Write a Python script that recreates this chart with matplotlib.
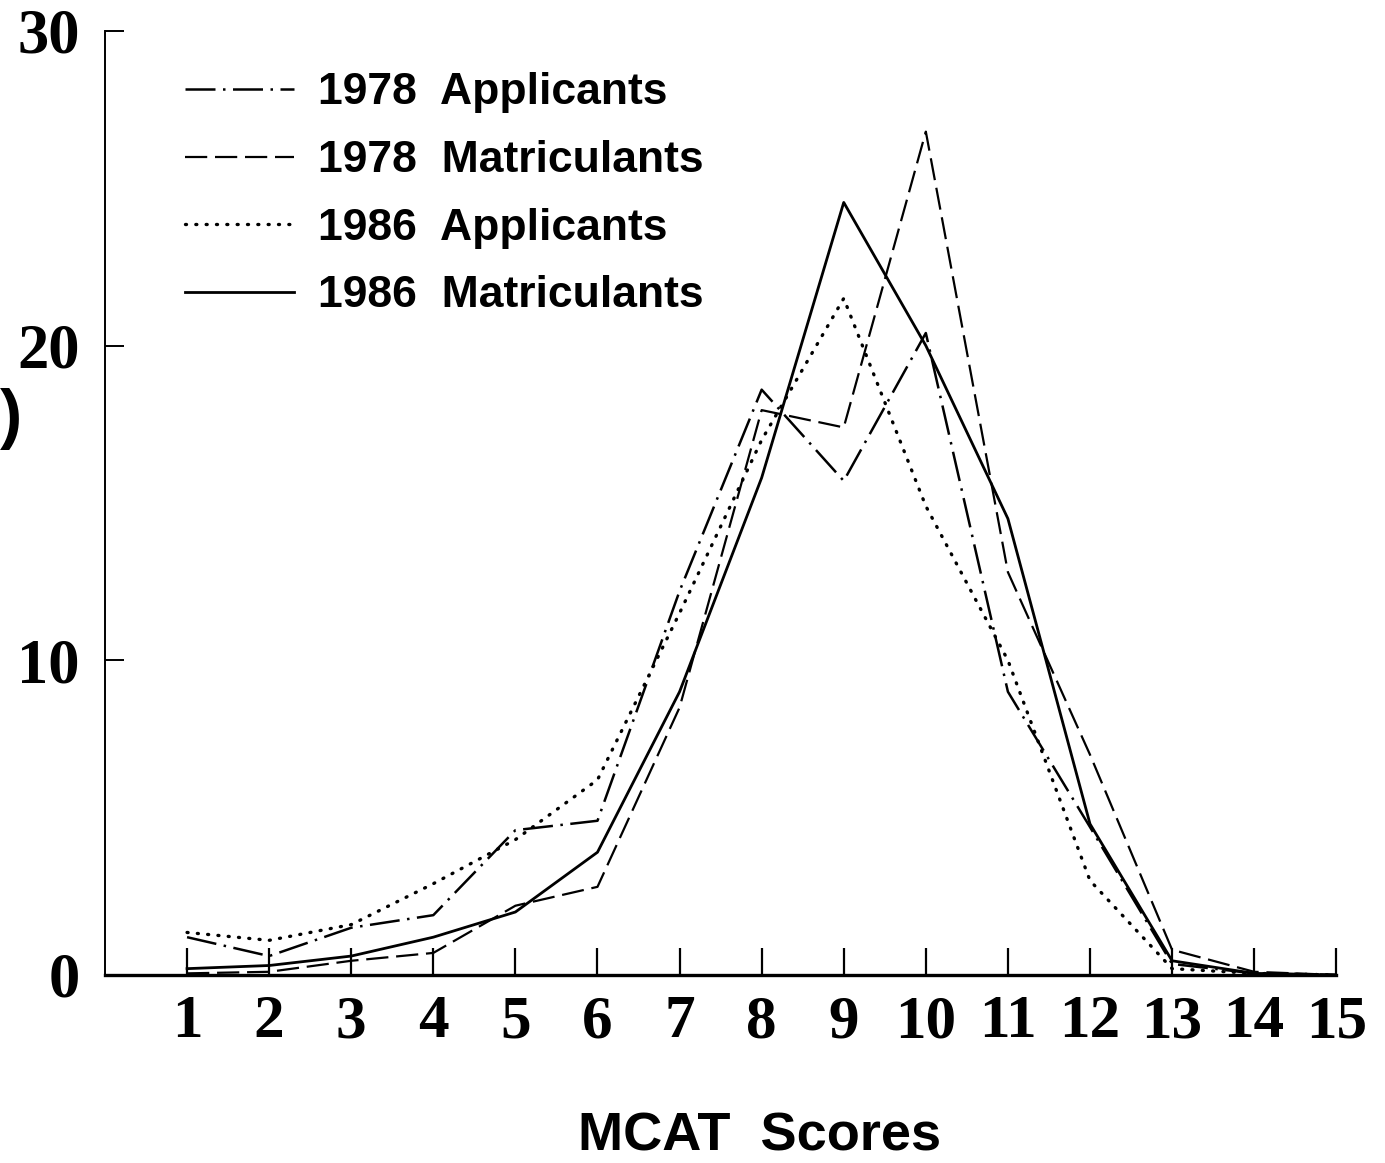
import matplotlib.pyplot as plt
import numpy as np

# MCAT score distribution (percent)
scores = list(range(1, 16))
apps_1978 = [1.2, 0.6, 1.5, 1.9, 4.6, 4.9, 12.2, 18.6, 15.7, 20.4, 9.0, 4.7, 0.35, 0.05, 0.0]
mats_1978 = [0.05, 0.1, 0.45, 0.7, 2.2, 2.8, 8.5, 17.95, 17.4, 26.8, 12.8, 7.0, 0.8, 0.1, 0.0]
apps_1986 = [1.35, 1.1, 1.6, 2.9, 4.3, 6.2, 11.5, 17.0, 21.5, 14.9, 10.0, 3.0, 0.2, 0.05, 0.0]
mats_1986 = [0.2, 0.3, 0.6, 1.2, 2.0, 3.9, 9.0, 15.8, 24.55, 20.0, 14.5, 4.8, 0.45, 0.05, 0.0]

y_ticks = [0, 10, 20, 30]
series_names = ["1978  Applicants", "1978  Matriculants", "1986  Applicants", "1986  Matriculants"]

fig = plt.figure(figsize=(13.85, 11.63), dpi=100)
ax = fig.add_axes([0.0758, 0.1617, 0.889, 0.8117])

ax.plot(scores, apps_1978, color="black", lw=1.8, linestyle=(0, (12, 3, 1, 3)), label=series_names[0])
ax.plot(scores, mats_1978, color="black", lw=1.6, linestyle=(0, (10, 3.5)), label=series_names[1])
ax.plot(scores, apps_1986, color="black", lw=2.4, linestyle=(0, (0.3, 2.8)),
        dash_capstyle="round", label=series_names[2])
ax.plot(scores, mats_1986, color="black", lw=2.0, linestyle="-", label=series_names[3])

ax.set_xlim(0, 15)
ax.set_ylim(0, 30)

ax.spines["top"].set_visible(False)
ax.spines["right"].set_visible(False)
ax.spines["left"].set_linewidth(1.4)
ax.spines["bottom"].set_linewidth(2.4)

ax.set_xticks(scores)
ax.set_xticklabels([str(s) for s in scores], fontfamily="Liberation Serif",
                   fontweight="bold", fontsize=44)
ax.set_yticks(y_ticks)
ax.set_yticklabels([str(v) for v in y_ticks], fontfamily="Liberation Serif",
                   fontweight="bold", fontsize=45)
ax.tick_params(axis="x", direction="in", length=19.5, width=1.6, pad=14)
ax.tick_params(axis="y", direction="in", length=14, width=1.4, pad=18)

ax.set_xlabel("MCAT  Scores", fontfamily="Liberation Sans", fontweight="bold",
              fontsize=39, labelpad=44)
ax.xaxis.set_label_coords(0.532, -0.145)

leg = ax.legend(loc="upper left", bbox_to_anchor=(0.065, 0.956), frameon=False,
                borderpad=0, borderaxespad=0, handlelength=2.45, handletextpad=0.55,
                labelspacing=0.6,
                prop={"family": "Liberation Sans", "weight": "bold", "size": 32})

# clipped fragment of the original y-axis title at the left edge
fig.text(0.0, 0.64, ")", fontfamily="Liberation Sans", fontweight="bold",
         fontsize=48, va="center", ha="left")

fig.savefig("out.png", dpi=100)
